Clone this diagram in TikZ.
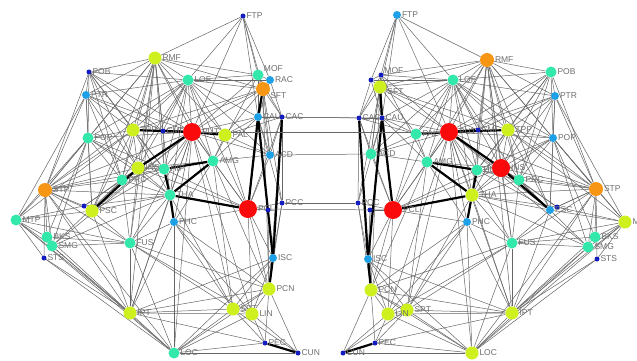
\documentclass[tikz,border=0pt]{standalone}
\usepackage{fontspec}
\setmainfont{Liberation Sans}
\usetikzlibrary{backgrounds}

\definecolor{hubred}{RGB}{250,10,10}
\definecolor{hubor}{RGB}{247,150,20}
\definecolor{ygreen}{RGB}{205,240,30}
\definecolor{tealroi}{RGB}{50,232,170}
\definecolor{lblue}{RGB}{30,160,230}
\definecolor{dblue}{RGB}{20,30,190}
\definecolor{lblgray}{RGB}{110,110,110}

\tikzset{every picture/.style={line width=0.5pt}}
\tikzset{
  roi/.style={circle, inner sep=0pt, draw=none},
  redroi/.style={roi, fill=hubred, minimum size=18pt},
  orroi/.style={roi, fill=hubor, minimum size=14pt},
  ygroi/.style={roi, fill=ygreen, minimum size=13pt},
  tlroi/.style={roi, fill=tealroi, minimum size=11pt},
  lbroi/.style={roi, fill=lblue, minimum size=8pt},
  dbroi/.style={roi, fill=dblue, minimum size=5pt},
  lbl/.style={text=lblgray, font=\fontsize{8.5}{9}\selectfont, inner sep=0.5pt},
  fib/.style={draw=black!60, line width=0.5pt},
  tract/.style={draw=black, line width=2.2pt},
}

\begin{document}
\begin{tikzpicture}[x=1pt,y=1pt,yscale=-1]
\useasboundingbox (0,0) rectangle (637,360);

% left hemisphere
\node[dbroi, label={[lbl]0:FTP}] (LFTP) at (243,16) {};
\node[ygroi, label={[lbl]0:RMF}] (LRMF) at (155,58) {};
\node[dbroi, label={[lbl]0:POB}] (LPOB) at (89,72) {};
\node[lbroi, label={[lbl]0:PTR}] (LPTR) at (86,95) {};
\node[tlroi, label={[lbl]0:LOF}] (LLOF) at (188,80) {};
\node[tlroi, label={[lbl]25:MOF}] (LMOF) at (258,75) {};
\node[lbroi, label={[lbl]0:RAC}] (LRAC) at (270,80) {};
\node[orroi, label={[lbl]-25:SFT}] (LSFT) at (263,89) {};
\node[lbroi, label={[lbl]0:CAU}] (LCAU) at (258,117) {};
\node[dbroi, label={[lbl]0:CAC}] (LCAC) at (282,117) {};
\node[redroi, label={[lbl]0:PUT}] (LPUT) at (192,132) {};
\node[ygroi, label={[lbl]0:PAL}] (LPAL) at (225,135) {};
\node[dbroi, label={[lbl]0:CMF}] (LCMF) at (163,131) {};
\node[ygroi, label={[lbl]0:TPP}] (LTPP) at (133,130) {};
\node[tlroi, label={[lbl]0:POP}] (LPOP) at (88,138) {};
\node[tlroi, label={[lbl]0:AMG}] (LAMG) at (213,161) {};
\node[lbroi, label={[lbl]0:ACD}] (LACD) at (270,155) {};
\node[tlroi, label={[lbl]0:HIP}] (LHIP) at (164,169) {};
\node[ygroi, label={[lbl]0:INS}] (LINS) at (138,168) {};
\node[tlroi, label={[lbl]0:PRC}] (LPRC) at (122,180) {};
\node[orroi, label={[lbl]0:STP}] (LSTP) at (45,190) {};
\node[tlroi, label={[lbl]0:THA}] (LTHA) at (170,195) {};
\node[lbroi, label={[lbl]0:PHC}] (LPHC) at (174,222) {};
\node[redroi, label={[lbl]0:PCL}] (LPCL) at (248,209) {};
\node[dbroi, label={[lbl]0:PCC}] (LPCC) at (282,203) {};
\node[dbroi] (LDCC) at (268,210) {};
\node[dbroi] (LDKB) at (84,206) {};
\node[ygroi, label={[lbl]0:PSC}] (LPSC) at (92,211) {};
\node[tlroi, label={[lbl]0:MTP}] (LMTP) at (16,220) {};
\node[tlroi, label={[lbl]0:BKS}] (LBKS) at (47,237) {};
\node[tlroi, label={[lbl]0:SMG}] (LSMG) at (52,246) {};
\node[dbroi, label={[lbl]0:STS}] (LSTS) at (44,258) {};
\node[tlroi, label={[lbl]0:FUS}] (LFUS) at (130,243) {};
\node[ygroi, label={[lbl]0:IPT}] (LIPT) at (130,313) {};
\node[lbroi, label={[lbl]0:ISC}] (LISC) at (273,258) {};
\node[ygroi, label={[lbl]0:PCN}] (LPCN) at (269,289) {};
\node[ygroi, label={[lbl]0:SPT}] (LSPT) at (233,309) {};
\node[ygroi, label={[lbl]0:LIN}] (LLIN) at (252,314) {};
\node[dbroi, label={[lbl]0:PEC}] (LPEC) at (265,343) {};
\node[dbroi, label={[lbl]0:CUN}] (LCUN) at (298,353) {};
\node[tlroi, label={[lbl]0:LOC}] (LLOC) at (174,353) {};

% right hemisphere
\node[lbroi, label={[lbl]0:FTP}] (RFTP) at (397,15) {};
\node[orroi, label={[lbl]0:RMF}] (RRMF) at (487,60) {};
\node[tlroi, label={[lbl]0:POB}] (RPOB) at (551,72) {};
\node[lbroi, label={[lbl]0:PTR}] (RPTR) at (555,96) {};
\node[tlroi, label={[lbl]0:LOF}] (RLOF) at (453,80) {};
\node[dbroi, label={[lbl]10:MOF}] (RMOF) at (381,75) {};
\node[dbroi] (RRAC) at (371,80) {};
\node[ygroi, label={[lbl]-10:SFT}] (RSFT) at (380,87) {};
\node[dbroi, label={[lbl]0:CAU}] (RCAU) at (382,118) {};
\node[dbroi, label={[lbl]0:CAC}] (RCAC) at (359,118) {};
\node[redroi, label={[lbl]0:PUT}] (RPUT) at (449,132) {};
\node[tlroi, label={[lbl]0:PAL}] (RPAL) at (416,134) {};
\node[dbroi, label={[lbl]0:CMF}] (RCMF) at (478,130) {};
\node[ygroi, label={[lbl]0:TPP}] (RTPP) at (508,130) {};
\node[lbroi, label={[lbl]0:POP}] (RPOP) at (553,138) {};
\node[tlroi, label={[lbl]0:AMG}] (RAMG) at (427,162) {};
\node[tlroi, label={[lbl]0:ACD}] (RACD) at (371,154) {};
\node[tlroi, label={[lbl]0:HIP}] (RHIP) at (477,170) {};
\node[redroi, label={[lbl]0:INS}] (RINS) at (501,168) {};
\node[tlroi, label={[lbl]0:PRC}] (RPRC) at (519,180) {};
\node[orroi, label={[lbl]0:STP}] (RSTP) at (596,189) {};
\node[ygroi, label={[lbl]0:THA}] (RTHA) at (472,195) {};
\node[lbroi, label={[lbl]0:PHC}] (RPHC) at (467,222) {};
\node[redroi, label={[lbl]0:PCL}] (RPCL) at (393,210) {};
\node[dbroi, label={[lbl]0:PCC}] (RPCC) at (358,203) {};
\node[dbroi] (RDCC) at (370,210) {};
\node[dbroi] (RDKB) at (557,207) {};
\node[lbroi, label={[lbl]0:PSC}] (RPSC) at (550,210) {};
\node[ygroi, label={[lbl]0:MTP}] (RMTP) at (625,222) {};
\node[tlroi, label={[lbl]0:BKS}] (RBKS) at (595,237) {};
\node[tlroi, label={[lbl]0:SMG}] (RSMG) at (588,247) {};
\node[dbroi, label={[lbl]0:STS}] (RSTS) at (597,259) {};
\node[tlroi, label={[lbl]0:FUS}] (RFUS) at (512,243) {};
\node[ygroi, label={[lbl]0:IPT}] (RIPT) at (512,313) {};
\node[lbroi, label={[lbl]0:ISC}] (RISC) at (368,259) {};
\node[ygroi, label={[lbl]0:PCN}] (RPCN) at (371,290) {};
\node[ygroi, label={[lbl]0:SPT}] (RSPT) at (407,310) {};
\node[ygroi, label={[lbl]0:LIN}] (RLIN) at (388,314) {};
\node[dbroi, label={[lbl]0:PEC}] (RPEC) at (375,343) {};
\node[dbroi, label={[lbl]0:CUN}] (RCUN) at (343,353) {};
\node[ygroi, label={[lbl]0:LOC}] (RLOC) at (472,353) {};

\begin{pgfonlayer}{background}
% fibres, same wiring in both hemispheres
\foreach \h in {L,R}{
  \foreach \a/\b in {FTP/RMF, FTP/LOF, FTP/MOF, FTP/SFT, FTP/RAC, FTP/PUT, FTP/CAU,
    RMF/POB, RMF/PTR, RMF/LOF, RMF/MOF, RMF/SFT, RMF/PUT, RMF/PAL, RMF/CMF, RMF/TPP,
    RMF/POP, RMF/INS, RMF/PRC, RMF/STP, RMF/THA, RMF/HIP, RMF/PSC, RMF/IPT, RMF/FUS, RMF/AMG,
    LOF/POB, LOF/PTR, LOF/MOF, LOF/SFT, LOF/RAC, LOF/CAU, LOF/PUT, LOF/PAL, LOF/CMF, LOF/TPP,
    LOF/POP, LOF/AMG, LOF/INS, LOF/THA, LOF/HIP, LOF/PRC, LOF/STP, LOF/ACD, LOF/PCL,
    POB/PTR, POB/TPP, POB/PUT, POB/POP, POB/CMF, POB/INS, POB/PRC, POB/STP, POB/HIP,
    PTR/POP, PTR/TPP, PTR/PUT, PTR/CMF, PTR/INS, PTR/STP, PTR/MTP, PTR/PSC, PTR/PRC,
    SFT/MOF, SFT/RAC, SFT/CAC, SFT/PUT, SFT/PAL, SFT/CMF, SFT/TPP, SFT/ACD, SFT/PCL, SFT/PCN, SFT/PCC,
    MOF/RAC, MOF/CAU, MOF/CAC, MOF/ACD, MOF/PUT, MOF/AMG,
    PUT/POP, PUT/AMG, PUT/HIP, PUT/PRC, PUT/STP, PUT/THA, PUT/PHC, PUT/PCL, PUT/ACD,
    PUT/PSC, PUT/CAU, PUT/SMG, PUT/FUS, PUT/IPT, PUT/LOC, PUT/SPT, PUT/LIN,
    TPP/POP, TPP/CMF, TPP/INS, TPP/PRC, TPP/STP, TPP/THA, TPP/PSC, TPP/MTP, TPP/HIP,
    POP/PRC, POP/STP, POP/INS, POP/MTP, POP/PSC, POP/BKS, POP/SMG, POP/THA, POP/HIP,
    STP/PRC, STP/INS, STP/MTP, STP/BKS, STP/SMG, STP/STS, STP/FUS, STP/IPT, STP/LOC,
    STP/PSC, STP/DKB, STP/THA, STP/HIP,
    MTP/BKS, MTP/SMG, MTP/STS, MTP/FUS, MTP/IPT, MTP/LOC, MTP/PSC, MTP/DKB,
    IPT/STS, IPT/SMG, IPT/BKS, IPT/FUS, IPT/LOC, IPT/SPT, IPT/LIN, IPT/PCN, IPT/PEC,
    IPT/ISC, IPT/PSC, IPT/THA, IPT/PHC,
    LOC/FUS, LOC/SPT, LOC/LIN, LOC/PEC, LOC/CUN, LOC/PCN, LOC/STS, LOC/SMG, LOC/PHC, LOC/ISC,
    FUS/SMG, FUS/BKS, FUS/PHC, FUS/THA, FUS/SPT, FUS/LIN, FUS/PCN, FUS/PSC, FUS/PRC, FUS/INS,
    PCN/SPT, PCN/LIN, PCN/PEC, PCN/CUN, PCN/PCL, PCN/PCC, PCN/DCC, PCN/CAC, PCN/AMG, PCN/PHC,
    ISC/PCC, ISC/DCC, ISC/PCL, ISC/SPT, ISC/LIN,
    LIN/SPT, LIN/PEC, LIN/CUN, LIN/PHC,
    SPT/PEC, SPT/CUN, SPT/PHC, SPT/THA, SPT/AMG,
    PCL/CAC, PCL/PCC, PCL/DCC, PCL/AMG, PCL/ACD, PCL/PAL, PCL/PHC, PCL/HIP, PCL/INS, PCL/LIN,
    AMG/PAL, AMG/ACD, AMG/PHC, AMG/CAU, AMG/INS,
    HIP/INS, HIP/PRC, HIP/CMF, HIP/PSC, HIP/PHC,
    INS/PRC, INS/THA, INS/DKB,
    PRC/PSC, PRC/THA, PRC/DKB, PRC/SMG,
    THA/PSC, THA/DKB, THA/SMG,
    CAU/CAC, CAU/RAC, CAU/ACD, CAU/PCC,
    CAC/RAC, CAC/PCC, CAC/ACD,
    PAL/CAU, PAL/ACD, PAL/CAC}
    \draw[fib] (\h\a) -- (\h\b);
  % strong tracts
  \foreach \a/\b in {PUT/PAL, PUT/INS, INS/PSC, AMG/HIP, AMG/THA, HIP/THA, THA/PCL,
    PCL/CAU, SFT/CAU, CAC/ISC, CAU/ISC, ISC/PCN, PEC/CUN, PUT/CMF, THA/PHC, PUT/TPP}
    \draw[tract] (\h\a) -- (\h\b);
}
% between hemispheres
\foreach \a in {CAC, CAU, PUT, ACD, PCL, PCC}
  \draw[fib] (L\a) -- (R\a);
\end{pgfonlayer}
\end{tikzpicture}
\end{document}
